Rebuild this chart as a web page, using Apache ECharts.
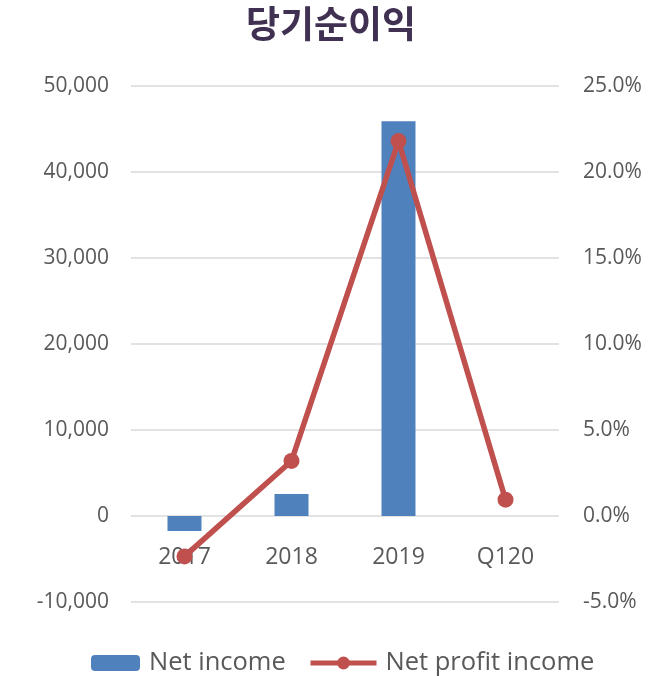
<!DOCTYPE html>
<html><head><meta charset="utf-8">
<script src="https://cdn.jsdelivr.net/npm/echarts@6/dist/echarts.min.js"></script>
<style>html,body{margin:0;padding:0;background:#fff}#c{width:662px;height:676px}</style>
</head><body><div id="c"></div>
<script>
const categories = ['2017', '2018', '2019', 'Q120'];
const netIncome = [-1750, 2550, 45900, 0];
const netProfitPct = [-2.35, 3.2, 21.8, 0.95];
const leftTicks = {min: -10000, max: 50000, interval: 10000};
const rightTicks = {min: -5, max: 25, interval: 5};

const chart = echarts.init(document.getElementById('c'));
const txt = '#595959';
const font = '"Open Sans", "Noto Sans", sans-serif';
chart.setOption({
  animation: false,
  title: {text: '당기순이익', left: 'center', top: 0,
    textStyle: {fontFamily: '"Noto Sans CJK KR"', fontWeight: 'bold', fontSize: 37, color: '#403152'}},
  legend: [
    {data: ['Net income'], left: 86, top: 645, itemWidth: 49, itemHeight: 16, itemGap: 0,
      textStyle: {fontFamily: font, fontSize: 25.5, color: txt, padding: [0,0,0,4]}},
    {data: ['Net profit income'], left: 303, top: 645, itemWidth: 66, itemHeight: 16,
      lineStyle: {width: 5},
      textStyle: {fontFamily: font, fontSize: 25.5, color: txt, padding: [0,0,0,4]}}
  ],
  grid: {left: 131, right: 103, top: 86, bottom: 74},
  xAxis: {type: 'category', data: categories,
    axisLine: {show: false},
    axisTick: {show: false},
    axisLabel: {margin: -56, fontFamily: font, fontSize: 23, color: txt}},
  yAxis: [
    {type: 'value', ...leftTicks, position: 'left',
      axisLine: {show: false}, axisTick: {show: false},
      splitLine: {lineStyle: {color: '#d9d9d9', width: 1.5}},
      axisLabel: {margin: 22, fontFamily: font, fontSize: 21, color: txt,
        formatter: v => v.toLocaleString('en-US')}},
    {type: 'value', ...rightTicks, position: 'right',
      axisLine: {show: false}, axisTick: {show: false}, splitLine: {show: false},
      axisLabel: {margin: 24, fontFamily: font, fontSize: 21, color: txt,
        formatter: v => v.toFixed(1) + '%'}}
  ],
  series: [
    {name: 'Net income', type: 'bar', data: netIncome, barWidth: 34,
      itemStyle: {color: '#4F81BD'}},
    {name: 'Net profit income', type: 'line', yAxisIndex: 1, data: netProfitPct,
      symbol: 'circle', symbolSize: 16,
      lineStyle: {color: '#C0504D', width: 5.5}, itemStyle: {color: '#C0504D'}}
  ]
});
</script></body></html>
